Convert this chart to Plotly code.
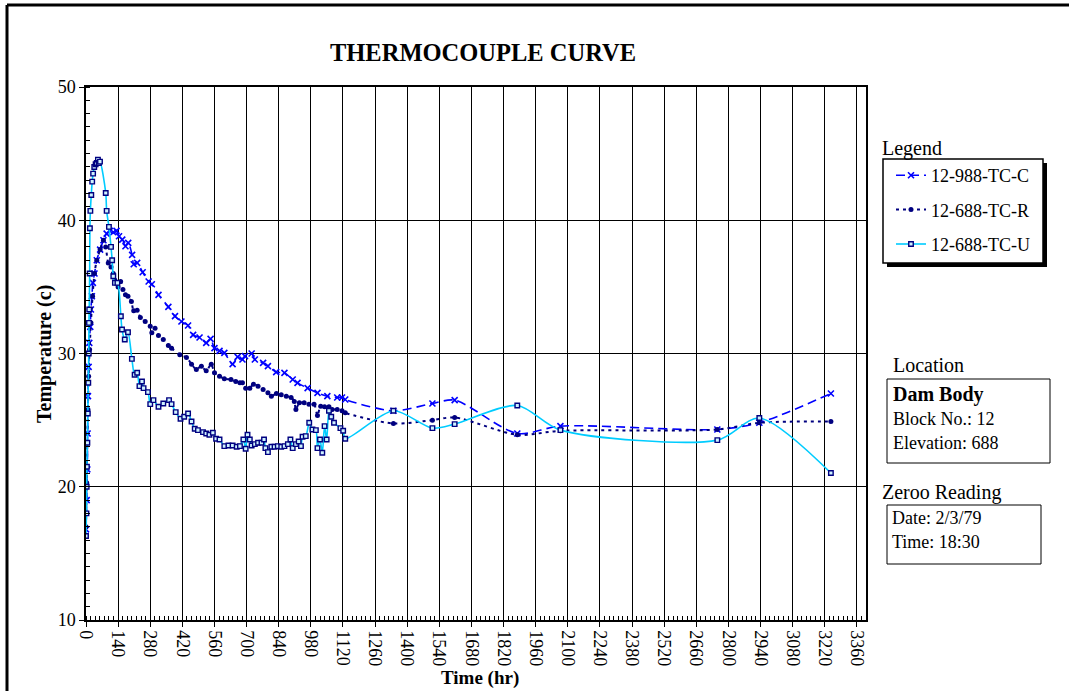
import plotly.graph_objects as go

# ---------------- data ----------------
c_time = [0, 3, 5.7, 7, 8.6, 11.4, 14.3, 18.6, 21.5, 25.7, 30, 37, 47, 61.5, 76, 90, 104, 119, 133,
          144, 158, 172, 184, 201, 208, 223, 247, 273, 287, 316, 359, 388, 416, 445, 467, 495, 524,
          543, 560, 582, 603, 639, 661, 682, 693, 722, 736, 772, 793, 829, 865, 901, 922, 966, 1009,
          1052, 1095, 1116, 1130, 1340, 1510, 1607, 1880, 2068, 2752, 2935, 3247]
c_temp = [16.8, 19.0, 21.3, 24.0, 26.8, 29.0, 30.8, 32.0, 33.3, 34.3, 35.3, 36.0, 37.0, 37.8, 38.5,
          39.0, 39.2, 39.1, 39.2, 38.8, 38.55, 38.05, 38.3, 37.4, 36.7, 36.8, 36.1, 35.4, 35.2, 34.4,
          33.5, 32.8, 32.4, 32.1, 31.4, 31.2, 30.8, 31.1, 30.4, 30.2, 30.05, 29.2, 29.75, 29.55, 29.8,
          30.0, 29.55, 29.3, 29.05, 28.6, 28.55, 28.05, 27.8, 27.4, 27.05, 26.8, 26.7, 26.7, 26.55,
          25.7, 26.25, 26.5, 24.0, 24.55, 24.3, 24.8, 27.0]

r_time = [0, 3, 5.7, 8.6, 11.4, 15.7, 21.5, 28.6, 37, 47, 61.5, 76, 86, 97, 109, 119, 126, 140, 151,
          161, 172, 183, 198, 208, 223, 237, 258, 280, 287, 301, 316, 337, 359, 373, 409, 438, 460,
          481, 503, 524, 546, 560, 582, 603, 632, 653, 671, 682, 696, 714, 730, 750, 772, 793, 808,
          830, 851, 873, 894, 908, 915, 930, 951, 972, 994, 1009, 1023, 1040, 1059, 1073, 1095, 1116,
          1130, 1340, 1510, 1607, 1880, 2068, 2752, 2935, 3247]
r_temp = [17.0, 20.3, 23.3, 25.8, 28.3, 30.3, 32.3, 34.3, 36.0, 37.0, 37.8, 38.5, 38.0, 36.8, 36.5,
          36.0, 35.5, 35.0, 35.4, 34.8, 34.4, 34.3, 33.9, 33.2, 33.25, 32.7, 32.4, 32.05, 31.55, 31.9,
          31.35, 31.05, 30.6, 30.4, 29.9, 29.7, 29.2, 28.8, 29.05, 28.7, 29.2, 28.55, 28.3, 28.1,
          28.05, 27.9, 27.8, 27.8, 27.4, 27.4, 27.7, 27.55, 27.3, 27.05, 26.8, 27.0, 26.9, 26.8, 26.7,
          26.4, 25.8, 26.3, 26.3, 26.2, 26.2, 25.35, 26.05, 26.0, 26.0, 25.8, 25.8, 25.7, 25.55,
          24.75, 25.0, 25.2, 23.9, 24.2, 24.3, 24.8, 24.9]

u_time = [0, 2, 3, 4, 6, 8, 10, 12, 13, 14, 16, 17, 19, 23, 27, 31, 36, 42, 47, 52, 56, 61, 86, 90,
          100, 109, 114, 119, 126, 137, 152, 157, 169, 183, 200, 212, 223, 233, 244, 251, 270, 280,
          294, 316, 337, 362, 373, 391, 412, 428, 445, 460, 474, 488, 510, 524, 538, 553, 567, 582,
          603, 621, 639, 657, 671, 686, 696, 704, 714, 722, 736, 750, 765, 776, 782, 793, 808, 822,
          836, 851, 865, 880, 891, 901, 915, 927, 937, 944, 958, 973, 987, 1002, 1009, 1020, 1030,
          1040, 1049, 1059, 1069, 1081, 1109, 1121, 1130, 1340, 1510, 1607, 1880, 2068, 2752, 2935,
          3247]
u_temp = [16.3, 18.0, 20.0, 21.5, 23.3, 25.5, 27.8, 30.0, 32.3, 33.3, 36.0, 39.4, 40.7, 41.9, 42.9,
          43.5, 44.0, 44.2, 44.3, 44.55, 44.3, 44.4, 42.05, 40.7, 39.5, 38.0, 37.0, 35.8, 35.3, 35.3,
          32.8, 31.8, 31.05, 31.6, 29.6, 28.4, 28.55, 27.55, 27.9, 27.4, 27.1, 26.2, 26.5, 26.0,
          26.25, 26.5, 26.2, 25.6, 25.1, 25.25, 25.5, 24.9, 24.35, 24.25, 24.1, 24.0, 23.9, 24.05,
          23.6, 23.55, 23.05, 23.1, 23.1, 23.0, 23.05, 23.55, 22.85, 23.9, 23.55, 23.1, 23.2, 23.3,
          23.3, 23.55, 22.9, 22.6, 23.0, 23.0, 23.05, 23.0, 23.05, 23.2, 23.55, 22.9, 23.2, 23.4,
          23.05, 23.75, 23.8, 24.8, 24.3, 24.25, 22.9, 23.55, 22.55, 24.55, 23.55, 25.7, 25.25, 24.8,
          24.4, 24.2, 23.6, 25.7, 24.4, 24.7, 26.1, 24.25, 23.5, 25.16, 21.03]

series_names = ["12-988-TC-C", "12-688-TC-R", "12-688-TC-U"]
x_ticks = list(range(0, 3361, 140))
title_text = "THERMOCOUPLE CURVE"
location_lines = ["Dam Body", "Block No.: 12", "Elevation: 688"]
zero_lines = ["Date: 2/3/79", "Time: 18:30"]

# ---------------- layout helpers (pixel -> paper) ----------------
W, H = 1069, 691
L, R, T, B = 86, 866, 87, 620


def px(x):
    return (x - L) / (R - L)


def py(y):
    return (B - y) / (B - T)


FONT = "Liberation Serif"

fig = go.Figure()
fig.add_trace(go.Scatter(
    x=c_time, y=c_temp, name=series_names[0], mode="lines+markers", legendgroup="c",
    line=dict(color="#0000FF", width=1.6, dash="9px,5px", shape="spline", smoothing=0.8),
    marker=dict(symbol="x-thin", size=6, color="#0000FF", line=dict(color="#0000FF", width=1.6))))
fig.add_trace(go.Scatter(
    x=r_time, y=r_temp, name=series_names[1], mode="lines+markers", legendgroup="r",
    line=dict(color="#000080", width=2, dash="3px,4px", shape="spline", smoothing=0.8),
    marker=dict(symbol="circle", size=5, color="#000080")))
fig.add_trace(go.Scatter(
    x=u_time, y=u_temp, name=series_names[2], mode="lines+markers", legendgroup="u",
    line=dict(color="#00CCFF", width=1.6, shape="spline", smoothing=0.8),
    marker=dict(symbol="square", size=4.5, color="#CFF3FF", line=dict(color="#000080", width=1.4))))

shapes = [
    # outer frame
    dict(type="line", xref="paper", yref="paper", x0=px(7), x1=px(7), y0=py(720), y1=py(5),
         line=dict(color="black", width=3)),
    dict(type="line", xref="paper", yref="paper", x0=px(7), x1=px(1100), y0=py(5), y1=py(5),
         line=dict(color="black", width=3)),
    # legend shadow + box
    dict(type="rect", xref="paper", yref="paper", x0=px(887), x1=px(1047), y0=py(267), y1=py(163),
         fillcolor="black", line=dict(width=0)),
    dict(type="rect", xref="paper", yref="paper", x0=px(883), x1=px(1043), y0=py(263), y1=py(159),
         fillcolor="white", line=dict(color="black", width=1.5)),
    # location box
    dict(type="rect", xref="paper", yref="paper", x0=px(887), x1=px(1050), y0=py(463), y1=py(379),
         fillcolor="white", line=dict(color="black", width=1)),
    # zero reading box
    dict(type="rect", xref="paper", yref="paper", x0=px(887), x1=px(1041), y0=py(564), y1=py(505),
         fillcolor="white", line=dict(color="black", width=1)),
]


def ann(text, x, y, size, bold=False, xanchor="left", angle=0):
    return dict(text=("<b>%s</b>" % text) if bold else text, x=px(x), y=py(y), xref="paper",
                yref="paper", xanchor=xanchor, yanchor="middle", showarrow=False,
                textangle=angle, font=dict(family=FONT, size=size, color="black"))


annotations = [
    ann("Legend", 880, 148, 20),
    ann("Location", 891, 365, 20),
    ann(location_lines[0], 891, 394, 20, bold=True),
    ann(location_lines[1], 891, 419, 18),
    ann(location_lines[2], 891, 443, 18),
    ann("Zeroo Reading", 880, 492, 20),
    ann(zero_lines[0], 890, 518, 18),
    ann(zero_lines[1], 890, 542, 18),
    ann("Temperature (c)", 44, 354, 20, bold=True, xanchor="center", angle=-90),
    ann("Time (hr)", 480, 678, 19, bold=True, xanchor="center"),
]

fig.update_layout(
    width=W, height=H,
    margin=dict(l=L, r=W - R, t=T, b=H - B),
    paper_bgcolor="white", plot_bgcolor="white",
    font=dict(family=FONT, color="black"),
    title=dict(text="<b>%s</b>" % title_text, x=483 / W, y=1 - 52 / H, xanchor="center",
               yanchor="middle", font=dict(family=FONT, size=24.5, color="black")),
    showlegend=True,
    legend=dict(x=px(891), y=py(157), xanchor="left", yanchor="top", bgcolor="rgba(0,0,0,0)",
                borderwidth=0, font=dict(family=FONT, size=18, color="black"), tracegroupgap=8),
    shapes=shapes,
    annotations=annotations,
)

fig.update_xaxes(
    range=[0, 3400], tickmode="array", tickvals=x_ticks, ticktext=[str(v) for v in x_ticks],
    tickangle=90, tickfont=dict(family=FONT, size=18, color="black"),
    showgrid=True, gridcolor="black", gridwidth=1, zeroline=False,
    showline=True, mirror=True, linecolor="black", linewidth=1.5,
    ticks="outside", ticklen=5, tickcolor="black",
    minor=dict(dtick=20, tick0=0, ticks="inside", ticklen=4, tickcolor="black", showgrid=False),
)
fig.update_yaxes(
    range=[10, 50], dtick=10, tick0=10, tickfont=dict(family=FONT, size=18, color="black"),
    showgrid=True, gridcolor="black", gridwidth=1, zeroline=False,
    showline=True, mirror=True, linecolor="black", linewidth=1.5,
    ticks="outside", ticklen=5, tickcolor="black",
    minor=dict(dtick=1, ticks="inside", ticklen=4, tickcolor="black", showgrid=False),
)

fig.write_html("out.html", config={"displayModeBar": False},
               post_script="document.body.style.margin='0';")
